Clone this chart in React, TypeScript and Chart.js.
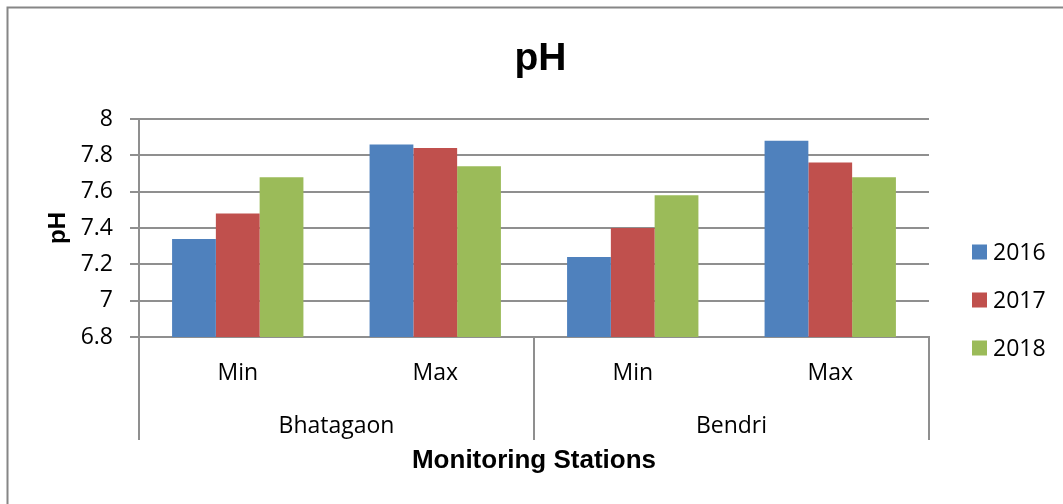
import React, { useEffect, useRef } from 'react';
import { Chart, registerables } from 'chart.js';

Chart.register(...registerables);

const categories = ['Min', 'Max', 'Min', 'Max'];
const stations = ['Bhatagaon', 'Bendri'];
const seriesLabels = ['2016', '2017', '2018'];
const values2016 = [7.34, 7.86, 7.24, 7.88];
const values2017 = [7.48, 7.84, 7.4, 7.76];
const values2018 = [7.68, 7.74, 7.58, 7.68];
const yTicks = [6.8, 7, 7.2, 7.4, 7.6, 7.8, 8];
const chartTitle = 'pH';
const yTitle = 'pH';
const xTitle = 'Monitoring Stations';
const seriesColors = ['#4F81BD', '#C0504D', '#9BBB59'];

const W = 1063;
const H = 504;
const GRID = '#8f8f8f';
const TICK_FONT = "'Open Sans', sans-serif";
const BOLD_FONT = "'Liberation Sans', Arial, sans-serif";

const decorPlugin = {
  id: 'decor',
  afterDraw(chart: any) {
    const { ctx, chartArea } = chart;
    const x = chart.scales.x;
    ctx.save();
    // outer frame
    ctx.strokeStyle = '#868686';
    ctx.lineWidth = 2;
    ctx.strokeRect(7.5, 7.5, W + 40, H + 40);

    // chart title
    ctx.fillStyle = '#000';
    ctx.font = `bold 39px ${BOLD_FONT}`;
    ctx.textAlign = 'center';
    ctx.textBaseline = 'middle';
    ctx.fillText(chartTitle, 540.5, 59);

    // multi-level category axis: station separators and labels
    const step = x.getPixelForValue(1) - x.getPixelForValue(0);
    const perGroup = categories.length / stations.length;
    ctx.strokeStyle = GRID;
    ctx.lineWidth = 2;
    const y0 = chartArea.bottom;
    const y1 = chartArea.bottom + 103;
    stations.forEach((name, g) => {
      const start = x.getPixelForValue(g * perGroup) - step / 2;
      const end = x.getPixelForValue(g * perGroup + perGroup - 1) + step / 2;
      [start, end].forEach((px) => {
        const p = Math.round(px);
        ctx.beginPath();
        ctx.moveTo(p, y0);
        ctx.lineTo(p, y1);
        ctx.stroke();
      });
      ctx.fillStyle = '#000';
      ctx.font = `23px ${TICK_FONT}`;
      ctx.textAlign = 'center';
      ctx.textBaseline = 'middle';
      ctx.fillText(name, (start + end) / 2, chartArea.bottom + 89);
    });

    // legend
    const ds = chart.data.datasets;
    ctx.font = `23px ${TICK_FONT}`;
    ctx.textAlign = 'left';
    ctx.textBaseline = 'middle';
    ds.forEach((d: any, i: number) => {
      const cy = 252 + i * 48;
      ctx.fillStyle = d.backgroundColor;
      ctx.fillRect(972, cy - 7.5, 15, 15);
      ctx.fillStyle = '#000';
      ctx.fillText(d.label, 993, cy + 1);
    });
    ctx.restore();
  },
};

export default function App() {
  const ref = useRef<HTMLCanvasElement | null>(null);

  useEffect(() => {
    if (!ref.current) return;
    const seriesValues = [values2016, values2017, values2018];
    const chart = new Chart(ref.current, {
      type: 'bar',
      data: {
        labels: categories,
        datasets: seriesLabels.map((label, i) => ({
          label,
          data: seriesValues[i],
          backgroundColor: seriesColors[i],
          borderWidth: 0,
          barPercentage: 1,
          categoryPercentage: 0.665,
        })),
      },
      options: {
        responsive: false,
        animation: false,
        devicePixelRatio: 1,
        layout: { padding: { top: 119, right: 134, bottom: 0, left: 0 } },
        plugins: {
          legend: { display: false },
          title: { display: false },
          tooltip: { enabled: false },
        },
        scales: {
          x: {
            type: 'category',
            offset: true,
            grid: { display: false, drawTicks: false, tickLength: 0 },
            border: { display: true, color: GRID, width: 2 },
            ticks: {
              color: '#000',
              font: { family: TICK_FONT, size: 23 },
              padding: 23,
              maxRotation: 0,
              autoSkip: false,
            },
            title: {
              display: true,
              text: xTitle,
              color: '#000',
              font: { family: BOLD_FONT, size: 26, weight: 'bold' },
              padding: { top: 0, bottom: 28 },
            },
            afterFit: (scale: any) => {
              scale.height = H - 337;
            },
          },
          y: {
            min: 6.8,
            max: 8,
            afterBuildTicks: (scale: any) => {
              scale.ticks = yTicks.map((v) => ({ value: v }));
            },
            grid: {
              color: GRID,
              lineWidth: 2,
              drawTicks: true,
              tickLength: 9,
            },
            border: { display: true, color: GRID, width: 2 },
            ticks: {
              color: '#000',
              font: { family: TICK_FONT, size: 23 },
              padding: 17,
              callback: (v: any) => String(Number(Number(v).toFixed(1))),
            },
            title: {
              display: true,
              text: yTitle,
              color: '#000',
              font: { family: BOLD_FONT, size: 24, weight: 'bold' },
              padding: { top: 44, bottom: 0 },
            },
            afterFit: (scale: any) => {
              scale.width = 139;
            },
          },
        },
      },
      plugins: [decorPlugin],
    });
    return () => chart.destroy();
  }, []);

  return (
    <div style={{ position: 'fixed', left: 0, top: 0, width: W, height: H, background: '#fff' }}>
      <canvas ref={ref} width={W} height={H} style={{ display: 'block', width: W, height: H }} />
    </div>
  );
}
